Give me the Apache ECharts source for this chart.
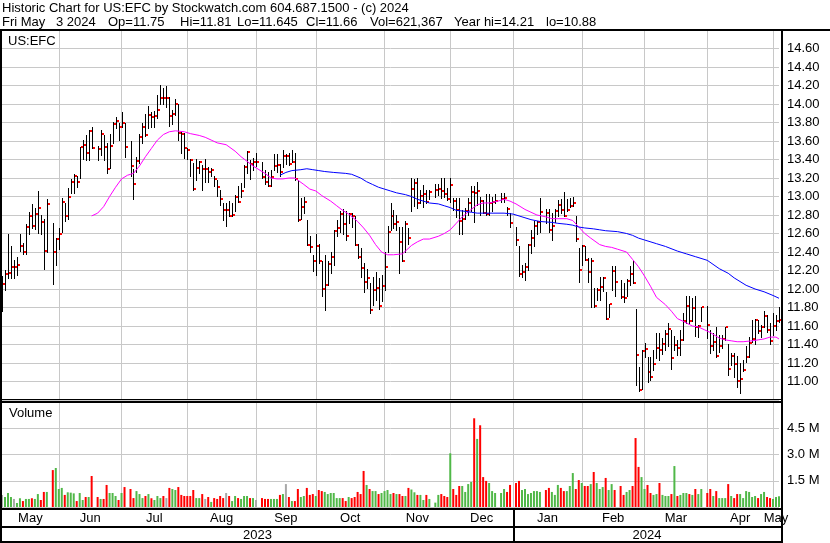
<!DOCTYPE html>
<html><head><meta charset="utf-8">
<script src="https://cdn.jsdelivr.net/npm/echarts@6/dist/echarts.min.js"></script>
<style>html,body{margin:0;padding:0;background:#fff}#c{width:830px;height:543px}</style>
</head><body><div id="c"></div>
<script>
// ---------- DATA (one slot per weekday, null = market holiday) ----------
const firstDay = '2023-05-05';
const lastDay = '2024-05-03';
const highs = [
12.14,12.21,12.60,12.47,12.31,12.35,12.59,12.50,12.70,12.83,
12.92,12.88,13.06,12.80,12.76,12.97,null,12.71,12.55,12.66,
12.98,12.93,13.09,13.19,13.24,13.22,13.53,13.61,13.67,13.72,
13.75,null,13.55,13.72,13.67,13.58,13.68,13.81,13.86,13.80,
13.91,13.79,null,13.60,13.30,13.43,13.68,13.80,13.89,13.98,
13.91,13.92,14.10,14.21,14.17,14.20,14.08,13.94,14.05,14.00,
13.70,13.69,13.52,13.41,13.36,13.41,13.38,13.34,13.41,13.32,
13.31,13.22,13.18,13.07,12.93,12.93,12.95,12.93,13.02,13.11,
13.15,13.34,13.49,13.40,13.42,13.47,null,13.37,13.29,13.27,
13.29,13.46,13.46,13.35,13.50,13.46,13.47,13.50,13.47,13.18,
12.98,13.00,12.75,12.57,12.37,12.60,12.49,12.30,12.37,12.30,
12.40,12.64,12.75,12.84,12.87,12.84,12.82,12.82,12.79,12.49,
12.44,12.28,12.22,12.06,12.13,12.18,12.12,12.15,12.40,12.68,
12.93,12.85,12.80,12.67,12.67,12.73,12.66,13.20,13.19,13.20,
13.07,13.12,13.07,13.07,null,13.14,13.14,13.20,13.20,13.09,
13.20,12.98,12.98,12.98,12.85,12.88,12.98,13.11,13.11,13.16,
13.00,12.96,13.03,13.03,13.00,13.03,null,13.04,13.04,12.89,
12.82,null,12.67,12.46,12.26,12.28,12.49,12.64,12.74,12.73,
12.98,null,12.87,12.86,12.82,12.86,12.96,12.97,13.05,12.97,
12.98,12.99,12.79,12.44,12.48,12.46,12.33,12.33,12.01,12.01,
12.13,12.13,11.97,11.84,12.25,12.25,null,12.10,12.06,12.11,
12.25,12.30,11.78,11.16,11.34,11.42,11.27,11.27,11.34,11.52,
11.52,11.47,11.56,11.63,11.56,11.49,11.45,11.56,11.74,11.92,
11.92,11.90,11.92,11.61,11.81,null,11.82,11.56,11.52,11.59,
11.50,11.50,11.59,11.41,11.31,11.31,11.28,11.20,11.23,11.38,
11.48,11.67,11.68,11.67,11.61,11.76,11.72,11.63,11.74,11.72,
11.81];
const lows = [
11.76,11.99,12.12,12.12,12.12,12.15,12.41,12.38,12.38,12.60,
12.66,12.65,12.61,12.60,12.22,12.40,null,12.05,12.26,12.43,
12.62,12.74,12.76,13.04,13.04,13.10,13.20,13.41,13.39,13.40,
13.52,null,13.40,13.45,13.40,13.25,13.31,13.58,13.74,13.61,
13.75,13.43,null,13.22,12.97,13.27,13.36,13.58,13.65,13.74,
13.75,13.75,13.85,14.00,14.00,13.97,13.76,13.78,13.88,13.61,
13.47,13.42,13.41,13.22,13.07,13.18,13.25,13.07,13.16,13.16,
13.22,13.11,13.01,12.91,12.75,12.68,12.79,12.79,12.84,12.94,
13.00,13.10,13.25,13.19,13.29,13.33,null,13.20,13.14,13.11,
13.11,13.29,13.27,13.22,13.32,13.35,13.34,13.37,13.18,12.74,
12.76,12.82,12.48,12.40,12.19,12.15,12.28,11.92,11.77,12.04,
12.17,12.26,12.57,12.62,12.60,12.53,12.71,12.67,12.48,12.33,
12.13,11.97,12.01,11.74,11.83,11.88,11.78,11.87,11.99,12.40,
12.64,12.66,12.64,12.17,12.30,12.40,12.49,12.84,12.90,12.88,
12.93,12.89,12.93,12.97,null,13.00,13.02,12.98,13.00,12.96,
12.94,12.85,12.78,12.60,12.60,12.76,12.80,12.84,12.72,12.91,
12.80,12.82,12.80,12.80,12.84,12.93,null,12.94,12.94,12.80,
12.67,null,12.48,12.14,12.13,12.10,12.21,12.39,12.46,12.59,
12.62,null,12.71,12.62,12.53,12.72,12.79,12.82,12.79,12.84,
12.89,12.90,12.52,12.08,12.26,12.31,12.08,11.81,11.81,11.88,
11.88,11.98,11.68,11.70,11.99,11.92,null,11.90,11.86,11.92,
12.04,12.06,10.96,10.90,10.92,11.27,11.00,11.02,11.12,11.25,
11.23,11.30,11.34,11.38,11.14,11.34,11.29,11.29,11.45,11.63,
11.63,11.65,11.49,11.48,11.65,null,11.47,11.31,11.34,11.27,
11.32,11.36,11.45,11.07,11.18,11.05,10.94,10.88,11.11,11.21,
11.27,11.43,11.41,11.52,11.48,11.59,11.54,11.41,11.50,11.56,
11.645];
const closes = [
12.05,12.16,12.17,12.24,12.24,12.26,12.46,12.40,12.67,12.79,
12.68,12.81,12.88,12.72,12.41,12.92,null,12.40,12.54,12.60,
12.94,12.79,13.00,13.16,13.22,13.16,13.53,13.56,13.47,13.71,
13.52,null,13.51,13.68,13.53,13.30,13.55,13.78,13.82,13.75,
13.80,13.54,null,13.33,13.14,13.38,13.64,13.75,13.66,13.88,
13.86,13.87,13.94,14.07,14.06,14.06,13.87,13.89,14.00,13.69,
13.68,13.52,13.50,13.39,13.08,13.31,13.37,13.30,13.30,13.26,
13.29,13.19,13.10,12.97,12.85,12.85,12.79,12.80,13.00,12.94,
13.06,13.32,13.48,13.35,13.37,13.37,null,13.21,13.16,13.11,
13.21,13.33,13.34,13.26,13.44,13.44,13.35,13.37,13.19,12.75,
12.89,12.94,12.48,12.45,12.30,12.46,12.30,12.00,12.04,12.27,
12.35,12.63,12.66,12.81,12.70,12.57,12.81,12.79,12.48,12.35,
12.23,12.08,12.12,11.77,11.99,12.01,11.82,12.03,12.24,12.62,
12.79,12.70,12.72,12.51,12.30,12.70,12.55,13.08,13.15,12.93,
13.01,13.03,12.94,13.05,null,13.07,13.08,13.06,13.03,12.97,
13.12,12.95,12.85,12.73,12.76,12.84,12.93,13.05,13.04,13.06,
12.95,12.82,12.81,12.93,12.94,12.95,null,12.97,12.98,12.86,
12.71,null,12.53,12.16,12.18,12.24,12.48,12.55,12.68,12.72,
12.83,null,12.82,12.64,12.68,12.84,12.91,12.85,12.79,12.85,
12.90,12.93,12.54,12.21,12.47,12.31,12.18,12.30,11.82,11.99,
12.02,12.12,11.68,11.84,12.19,12.08,null,11.91,11.90,12.09,
12.16,12.06,11.29,10.91,11.33,11.35,11.10,11.05,11.19,11.36,
11.34,11.41,11.51,11.57,11.25,11.40,11.36,11.45,11.65,11.82,
11.65,11.80,11.59,11.60,11.81,null,11.61,11.38,11.43,11.28,
11.38,11.46,11.59,11.13,11.28,11.19,11.01,11.03,11.12,11.27,
11.42,11.46,11.67,11.55,11.59,11.71,11.56,11.44,11.60,11.65,
11.66];
const volumesM = [
0.69,0.57,0.80,0.57,0.46,0.23,0.50,0.34,0.46,0.46,
0.50,0.46,0.74,0.40,0.86,0.86,null,2.11,2.23,1.03,
1.09,0.69,0.84,0.82,0.78,0.34,0.80,0.40,0.57,0.57,
1.77,null,0.57,0.46,0.46,1.26,0.80,0.80,0.63,0.40,
0.80,1.14,null,1.03,0.51,0.91,0.74,0.51,0.63,0.74,
0.50,0.40,0.63,0.51,0.63,0.51,1.09,1.03,0.97,1.14,
0.69,0.63,0.63,0.63,0.97,0.51,0.51,0.74,0.46,0.57,
0.29,0.51,0.46,0.63,0.51,0.80,0.63,0.34,0.63,0.51,
0.46,0.63,0.63,0.51,0.51,0.40,null,0.51,0.46,0.46,
0.46,0.46,0.46,0.69,0.74,1.31,0.57,0.34,0.34,1.03,
0.57,0.63,1.09,0.69,0.74,0.63,0.97,0.91,0.86,0.74,
0.80,0.80,0.51,0.51,0.51,0.34,0.57,0.51,0.57,0.86,
0.74,2.06,1.26,1.03,0.91,0.91,0.74,0.80,0.91,0.97,
0.74,0.80,0.74,0.74,0.63,0.63,1.09,1.00,0.84,0.69,
0.69,0.40,0.69,0.46,null,0.25,0.69,0.74,0.63,0.57,
3.07,1.03,0.69,1.20,1.20,0.86,1.31,1.43,5.07,3.89,
4.67,1.71,1.49,1.37,0.91,0.80,null,0.80,1.03,0.86,
1.26,null,1.37,1.49,0.97,1.03,0.74,0.80,0.91,0.91,
0.86,null,0.97,1.09,0.86,0.69,1.26,1.09,0.91,0.91,
1.20,1.94,1.03,1.54,1.37,1.20,1.20,1.31,2.00,1.37,
1.03,1.14,1.66,0.97,1.31,0.97,null,1.20,0.69,0.86,
0.97,1.20,3.94,2.29,1.71,1.03,1.26,0.80,0.69,0.74,
1.37,0.69,0.63,0.63,0.74,2.34,0.63,0.69,0.80,0.80,
0.74,0.69,1.03,0.74,1.03,null,0.80,1.03,0.63,0.91,
0.51,0.51,0.51,1.31,0.63,0.51,0.74,0.74,0.51,0.91,
0.86,0.57,0.63,0.51,0.74,0.86,0.57,0.51,0.46,0.57,
0.621];
// moving averages: [slot, value]
const maShort = [[30,12.79],[32,12.82],[34,12.89],[36,13.00],[38,13.10],[40,13.19],[42,13.23],[44,13.25],[46,13.33],[48,13.43],[50,13.52],[52,13.61],[54,13.67],[56,13.70],[58,13.71],[61,13.70],[63,13.68],[66,13.66],[68,13.64],[70,13.61],[72,13.58],[75,13.56],[78,13.49],[80,13.43],[82,13.38],[84,13.33],[86,13.29],[88,13.25],[90,13.20],[92,13.19],[94,13.19],[96,13.20],[98,13.20],[101,13.13],[103,13.08],[105,13.06],[107,13.01],[110,12.95],[112,12.90],[114,12.85],[116,12.81],[119,12.73],[121,12.66],[123,12.58],[125,12.48],[127,12.40],[129,12.37],[131,12.37],[134,12.38],[137,12.47],[139,12.51],[141,12.54],[143,12.54],[146,12.57],[148,12.60],[150,12.64],[152,12.71],[154,12.78],[157,12.86],[159,12.91],[161,12.93],[163,12.93],[166,12.95],[168,12.97],[170,12.95],[172,12.92],[175,12.86],[177,12.83],[179,12.80],[182,12.78],[184,12.76],[186,12.76],[189,12.76],[191,12.74],[193,12.67],[195,12.60],[197,12.55],[200,12.48],[202,12.46],[204,12.45],[206,12.43],[209,12.40],[211,12.32],[213,12.24],[215,12.14],[217,12.03],[219,11.91],[222,11.83],[224,11.76],[226,11.68],[228,11.65],[231,11.60],[233,11.59],[235,11.56],[237,11.53],[240,11.47],[242,11.45],[244,11.44],[246,11.43],[248,11.43],[251,11.44],[253,11.45],[255,11.46],[257,11.48],[259,11.48],[260,11.46]];
const maLong = [[93,13.23],[95,13.26],[97,13.28],[100,13.29],[102,13.30],[104,13.29],[106,13.28],[108,13.27],[111,13.26],[115,13.25],[117,13.24],[120,13.20],[122,13.16],[124,13.13],[126,13.10],[128,13.08],[130,13.06],[132,13.04],[135,13.02],[137,13.00],[139,12.97],[141,12.95],[143,12.93],[146,12.92],[148,12.90],[150,12.88],[152,12.85],[155,12.84],[157,12.83],[159,12.82],[168,12.82],[171,12.81],[173,12.79],[175,12.77],[177,12.75],[180,12.73],[184,12.72],[186,12.71],[189,12.70],[191,12.69],[193,12.67],[195,12.66],[198,12.65],[200,12.64],[202,12.63],[206,12.62],[209,12.60],[211,12.58],[213,12.55],[215,12.53],[219,12.49],[222,12.46],[226,12.41],[229,12.38],[232,12.35],[236,12.31],[240,12.22],[243,12.17],[245,12.12],[249,12.04],[252,12.00],[255,11.97],[258,11.93],[260,11.90]];
const titleLine1 = 'Historic Chart for US:EFC by Stockwatch.com 604.687.1500 - (c) 2024';
const titleLine2Parts = ['Fri May', '3 2024', 'Op=11.75', 'Hi=11.81', 'Lo=11.645', 'Cl=11.66', 'Vol=621,367', 'Year hi=14.21', 'lo=10.88'];
const symbolLabel = 'US:EFC';
const volumeLabel = 'Volume';
const monthNames = ['Jan','Feb','Mar','Apr','May','Jun','Jul','Aug','Sep','Oct','Nov','Dec'];

// ---------- axis categories: every weekday ----------
const categories = [];
(function(){
  const d = new Date(firstDay + 'T00:00:00Z'), end = new Date(lastDay + 'T00:00:00Z');
  while (d <= end) { const w = d.getUTCDay(); if (w !== 0 && w !== 6) categories.push(d.toISOString().slice(0,10)); d.setUTCDate(d.getUTCDate()+1); }
})();
const N = categories.length;
const gridSlots = [];
for (let i = 1; i < N; i++) {
  if (categories[i].slice(5,7) !== categories[i-1].slice(5,7)) gridSlots.push(categories[i].slice(8) === '01' ? i : i-1);
}
const gridSet = new Set(gridSlots);
const bounds = [0].concat(gridSlots, [N-1]);
const monthSpans = [];
for (let j = 0; j < bounds.length-1; j++) {
  const m = +categories[Math.max(bounds[j+1]-1, bounds[j])].slice(5,7);
  monthSpans.push({value:[bounds[j], bounds[j+1]], name: monthNames[m-1]});
}
const yearSpans = [];
let ys = 0;
for (let j = 0; j < gridSlots.length; j++) {
  if (categories[gridSlots[j]].slice(5,10) === '01-01') { yearSpans.push({value:[ys, gridSlots[j]], name: categories[ys].slice(0,4)}); ys = gridSlots[j]; }
}
yearSpans.push({value:[ys, N-1], name: categories[N-1].slice(0,4)});

const hlc = [];
for (let i = 0; i < N; i++) if (highs[i] != null) hlc.push([i, highs[i], lows[i], closes[i]]);

const GREEN = '#50b848', RED = '#ff0000', GRAY = '#a8a8a8';
let prevC = null;
const volData = volumesM.map((v, i) => {
  if (v == null) return '-';
  const c = closes[i];
  let col = GRAY;
  if (prevC != null) col = c > prevC ? GREEN : (c < prevC ? RED : GRAY);
  prevC = c;
  return {value: v, itemStyle: {color: col}};
});

const FONT = "13px 'Liberation Sans', Arial, sans-serif";
const FAM = "'Liberation Sans', Arial, sans-serif";
const GRIDC = '#c8c8c8';

const chart = echarts.init(document.getElementById('c'), null, {renderer:'canvas', width:830, height:543});
function xAxisCfg(g){
  return {type:'category', gridIndex:g, data:categories, boundaryGap:false,
    axisLine:{show:false}, axisTick:{show:false}, axisLabel:{show:false},
    splitLine:{show:true, interval:(i)=>gridSet.has(i), lineStyle:{color:GRIDC, width:1}}};
}
const line2X = [2, 56, 108, 180, 237, 306, 370, 454, 546];
const titleGraphics = [{type:'text', x:2, y:8, style:{text:titleLine1, font:FONT, fill:'#000', verticalAlign:'middle'}}];
titleLine2Parts.forEach((t, j) => titleGraphics.push({type:'text', x:line2X[j], y:22, style:{text:t, font:FONT, fill:'#000', verticalAlign:'middle'}}));

const option = {
  animation:false,
  backgroundColor:'#fff',
  grid:[{left:2, right:51, top:30, height:370}, {left:2, right:51, top:402, height:105}],
  xAxis:[xAxisCfg(0), xAxisCfg(1)],
  yAxis:[
    {type:'value', gridIndex:0, position:'right', min:10.8, max:14.8, interval:0.2,
     axisLine:{show:false}, axisTick:{show:false},
     axisLabel:{margin:8, color:'#000', fontSize:13, fontFamily:FAM, formatter:(v)=> (v < 10.9 || v > 14.7) ? '' : v.toFixed(2)},
     splitLine:{lineStyle:{color:GRIDC, width:1}}},
    {type:'value', gridIndex:1, position:'right', min:0, max:6, interval:1.5,
     axisLine:{show:false}, axisTick:{show:false},
     axisLabel:{margin:8, color:'#000', fontSize:13, fontFamily:FAM, formatter:(v)=> (v <= 0 || v >= 6) ? '' : v.toFixed(1) + ' M'},
     splitLine:{lineStyle:{color:GRIDC, width:1}}}
  ],
  series:[
    {type:'custom', xAxisIndex:0, yAxisIndex:0, data:hlc, encode:{x:0, y:[1,2,3]}, silent:true, z:3,
     renderItem:function(params, api){
       const i = api.value(0);
       const h = api.coord([i, api.value(1)]), l = api.coord([i, api.value(2)]), c = api.coord([i, api.value(3)]);
       const x = Math.round(h[0]);
       return {type:'group', children:[
         {type:'line', shape:{x1:x+0.5, y1:Math.round(h[1]), x2:x+0.5, y2:Math.round(l[1])+1}, style:{stroke:'#000', lineWidth:1}},
         {type:'rect', shape:{x:x+1, y:Math.round(c[1])-1, width:2, height:2}, style:{fill:RED}}
       ]};
     }},
    {type:'line', xAxisIndex:0, yAxisIndex:0, data:maShort, showSymbol:false, silent:true, z:4,
     lineStyle:{color:'#ff00ff', width:1}},
    {type:'line', xAxisIndex:0, yAxisIndex:0, data:maLong, showSymbol:false, silent:true, z:4,
     lineStyle:{color:'#0000ff', width:1}},
    {type:'bar', xAxisIndex:1, yAxisIndex:1, data:volData, barWidth:2, silent:true, z:3},
    {type:'custom', xAxisIndex:1, yAxisIndex:1, data:monthSpans, clip:false, silent:true, z:10,
     renderItem:function(params, api){
       const a = api.coord([api.value(0), 0]), b = api.coord([api.value(1), 0]);
       return {type:'text', x:(a[0]+b[0])/2, y:518.5, style:{text:monthSpans[params.dataIndex].name, font:FONT, fill:'#000', align:'center', verticalAlign:'middle'}};
     }},
    {type:'custom', xAxisIndex:1, yAxisIndex:1, data:yearSpans, clip:false, silent:true, z:10,
     renderItem:function(params, api){
       const a = api.coord([api.value(0), 0]), b = api.coord([api.value(1), 0]);
       const right = params.dataIndex === yearSpans.length-1 ? b[0]+2 : b[0];
       const kids = [{type:'text', x:(a[0]+right)/2, y:535.5, style:{text:yearSpans[params.dataIndex].name, font:FONT, fill:'#000', align:'center', verticalAlign:'middle'}}];
       if (params.dataIndex > 0) kids.push({type:'rect', shape:{x:Math.round(a[0]), y:508, width:2, height:35}, style:{fill:'#000'}});
       return {type:'group', children:kids};
     }}
  ],
  graphic: titleGraphics.concat([
    {type:'text', x:8, y:41.5, z:20, style:{text:symbolLabel, font:FONT, fill:'#000', verticalAlign:'middle'}},
    {type:'text', x:9, y:413, z:20, style:{text:volumeLabel, font:FONT, fill:'#000', verticalAlign:'middle'}},
    {type:'rect', shape:{x:0, y:29, width:830, height:2}, style:{fill:'#000'}, z:20},
    {type:'rect', shape:{x:0, y:29, width:2, height:514}, style:{fill:'#000'}, z:20},
    {type:'rect', shape:{x:781, y:29, width:2, height:514}, style:{fill:'#000'}, z:20},
    {type:'rect', shape:{x:0, y:399, width:783, height:1}, style:{fill:'#000'}, z:20},
    {type:'rect', shape:{x:0, y:401, width:783, height:2}, style:{fill:'#000'}, z:20},
    {type:'rect', shape:{x:0, y:508, width:783, height:2}, style:{fill:'#000'}, z:20},
    {type:'rect', shape:{x:0, y:526, width:783, height:2}, style:{fill:'#000'}, z:20},
    {type:'rect', shape:{x:0, y:541, width:783, height:2}, style:{fill:'#000'}, z:20}
  ])
};
chart.setOption(option);
</script>
</body></html>
